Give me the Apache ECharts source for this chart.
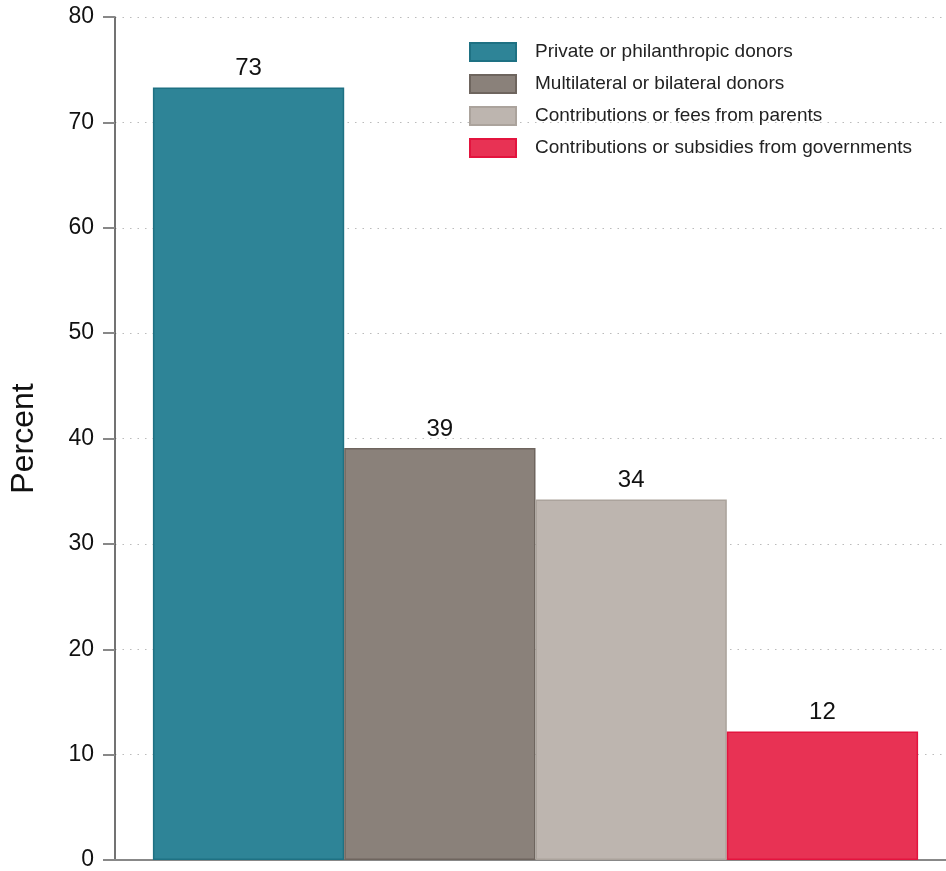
<!DOCTYPE html>
<html><head><meta charset="utf-8">
<script src="https://cdn.jsdelivr.net/npm/echarts@6/dist/echarts.min.js"></script>
<style>html,body{margin:0;padding:0;background:#fff}#c{width:946px;height:871px}</style>
</head><body><div id="c"></div>
<script>
const seriesNames = ["Private or philanthropic donors","Multilateral or bilateral donors","Contributions or fees from parents","Contributions or subsidies from governments"];
const seriesValues = [73.3, 39.1, 34.2, 12.2];
const valueLabels = ["73", "39", "34", "12"];
const fillColors = ["#2E8497","#8A817A","#BDB5AF","#E83254"];
const borderColors = ["#1E7183","#6E655E","#ABA39C","#E3143E"];
const yTicks = [0,10,20,30,40,50,60,70,80];

const chart = echarts.init(document.getElementById('c'));
const font = "'Liberation Sans', Arial, Helvetica, sans-serif";
chart.setOption({
  animation:false,
  textStyle:{fontFamily:font},
  grid:{left:115, right:-10, top:17, bottom:11, containLabel:false, outerBoundsMode:'none'},
  legend:{
    orient:'vertical', left:469, top:42, padding:0, itemWidth:46, itemHeight:18, itemGap:12,
    icon:'rect',
    data:seriesNames,
    textStyle:{fontSize:19, color:'#222', fontFamily:font, padding:[0,0,0,14]}
  },
  xAxis:{type:'category', data:[''], axisLine:{lineStyle:{color:'#888', width:2}}, axisTick:{show:false}, axisLabel:{show:false}},
  yAxis:{type:'value', min:yTicks[0], max:yTicks[yTicks.length-1], interval:10,
    name:'Percent', nameLocation:'middle', nameGap:75, nameRotate:90,
    nameTextStyle:{fontSize:32, color:'#111', fontFamily:font},
    axisLine:{show:true, lineStyle:{color:'#444', width:1.5}},
    axisTick:{show:true, length:12, lineStyle:{color:'#888', width:2}},
    axisLabel:{fontSize:23, color:'#111', margin:21, fontFamily:font},
    splitLine:{show:true, lineStyle:{color:'#bbb', type:[1.5,6], width:1.2}}
  },
  series: seriesNames.map((n,i)=>({
    name:n, type:'bar', barWidth:191.3, barGap:'0%',
    data:[seriesValues[i]],
    itemStyle:{color:fillColors[i], borderColor:borderColors[i], borderWidth:1.5},
    label:{show:true, position:'top', distance:7, fontSize:24, color:'#111', fontFamily:font,
      formatter:()=>valueLabels[i]}
  }))
});
</script></body></html>
